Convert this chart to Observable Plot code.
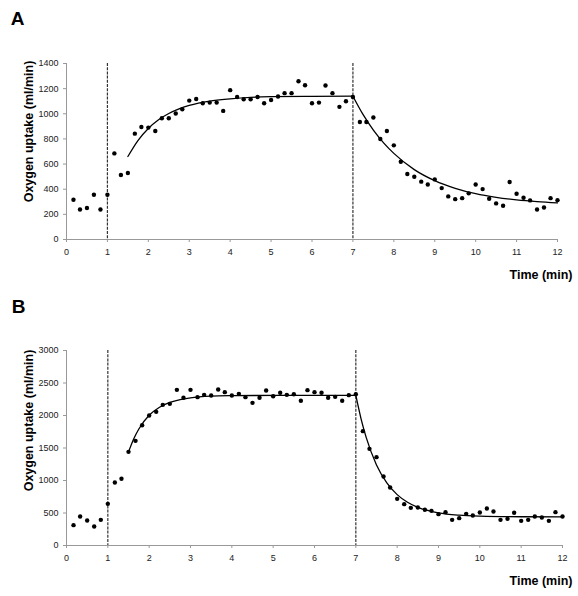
<!DOCTYPE html>
<html>
<head>
<meta charset="utf-8">
<script src="https://cdn.jsdelivr.net/npm/d3@7"></script>
<script src="https://cdn.jsdelivr.net/npm/@observablehq/plot@0.6"></script>
<style>
  html, body { margin: 0; padding: 0; background: #fff; }
  #chart { width: 578px; }
  #chart svg { display: block; }
</style>
</head>
<body>
<div id="chart"></div>
<script>
// Sample times (min)
const times = [0.17,0.33,0.5,0.67,0.83,1,1.17,1.33,1.5,1.67,1.83,2,2.17,2.33,2.5,2.67,2.83,3,
  3.17,3.33,3.5,3.67,3.83,4,4.17,4.33,4.5,4.67,4.83,5,5.17,5.33,5.5,5.67,5.83,6,
  6.17,6.33,6.5,6.67,6.83,7,7.17,7.33,7.5,7.67,7.83,8,8.17,8.33,8.5,8.67,8.83,9,
  9.17,9.33,9.5,9.67,9.83,10,10.17,10.33,10.5,10.67,10.83,11,11.17,11.33,11.5,11.67,11.83,12];

// Panel A: oxygen uptake (ml/min)
const vo2A = [316,239,250,356,239,356,685,513,529,842,895,890,863,964,964,1002,1036,1105,
  1118,1084,1089,1089,1023,1188,1134,1116,1116,1134,1084,1110,1137,1164,1164,1259,1227,1084,
  1089,1225,1164,1055,1100,1134,935,935,970,800,863,749,619,521,499,460,438,478,
  409,343,321,329,367,438,401,324,287,268,457,364,332,311,239,255,329,313];

// Panel B: oxygen uptake (ml/min)
const vo2B = [313,446,385,292,395,641,969,1026,1441,1610,1851,2000,2056,2164,2179,2395,2272,2395,
  2282,2318,2308,2400,2359,2308,2333,2282,2195,2272,2385,2297,2349,2318,2328,2226,2390,2359,
  2349,2272,2287,2226,2313,2328,1759,1487,1359,1062,892,718,636,579,585,549,533,482,
  513,395,421,487,462,508,569,523,395,410,503,379,395,446,431,379,513,446];

// Fitted curves
const fitOnA_t = [1.5,1.75,2,2.25,2.5,2.75,3,3.5,4,4.5,5,6,7];
const fitOnA_v = [660,789,883,952,1002,1039,1066,1101,1119,1131,1136,1139,1140];
const fitOffA_t = [7,7.25,7.5,7.75,8,8.5,9,9.5,10,10.5,11,11.5,12];
const fitOffA_v = [1140,993,870,769,685,556,468,407,364,335,315,301,291];

const fitOnB_t = [1.5,1.625,1.75,2,2.25,2.5,2.75,3,3.5,4,5,7];
const fitOnB_v = [1440,1639,1793,2003,2127,2202,2246,2272,2297,2305,2310,2310];
const fitOffB_t = [7,7.125,7.25,7.5,7.75,8,8.25,8.5,9,9.5,10,11,12];
const fitOffB_v = [2310,1953,1663,1240,964,783,665,587,503,467,452,442,440];

// Exercise on/off transitions
const transitions = [1, 7];

// Ticks and labels
const xTicks = [0,1,2,3,4,5,6,7,8,9,10,11,12];
const yTicksA = [0,200,400,600,800,1000,1200,1400];
const yTicksB = [0,500,1000,1500,2000,2500,3000];
const panelLabels = ["A", "B"];
const yLabel = "Oxygen uptake (ml/min)";
const xLabel = "Time (min)";

const font = "'Liberation Sans', Arial, sans-serif";

function toRows(ts, vs) { return ts.map((t, i) => ({t, v: vs[i]})); }

function panel(o) {
  return Plot.plot({
    width: 578,
    height: o.height,
    marginLeft: 66,
    marginRight: o.mr,
    marginTop: o.mt,
    marginBottom: o.mb,
    style: {fontFamily: font, background: "white", overflow: "visible"},
    x: {domain: [0, 12]},
    y: {domain: o.yDomain},
    marks: [
      Plot.axisX({ticks: xTicks, tickFormat: d => String(d), tickSize: 3, tickPadding: 6, fontSize: 9,
        stroke: "#999", fill: "#222", label: null}),
      Plot.axisY({ticks: o.yTicks, tickFormat: d => String(d), tickSize: 3, tickPadding: 5, fontSize: 9,
        stroke: "#999", fill: "#222", label: null}),
      Plot.ruleY([0], {stroke: "#999"}),
      Plot.ruleX([0], {stroke: "#999"}),
      Plot.ruleX(transitions, {stroke: "#333", strokeWidth: 1.2, strokeDasharray: "3,1.2"}),
      Plot.line(toRows(o.onT, o.onV), {x: "t", y: "v", curve: "monotone-x", stroke: "black", strokeWidth: 1.3}),
      Plot.line(toRows(o.offT, o.offV), {x: "t", y: "v", curve: "monotone-x", stroke: "black", strokeWidth: 1.3}),
      Plot.dot(toRows(times, o.values), {x: "t", y: "v", r: 2.2, fill: "black", stroke: "none"}),
      Plot.text([o.letter], {text: d => d, frameAnchor: "top-left", dx: o.letterDx, dy: o.letterDy,
        fontSize: 19, fontWeight: "bold", textAnchor: "middle", lineAnchor: "middle", fill: "black"}),
      Plot.text([yLabel], {text: d => d, frameAnchor: "left", rotate: -90, dx: -38, dy: o.ylabDy,
        fontSize: 12.5, fontWeight: "bold", textAnchor: "middle", lineAnchor: "middle", fill: "black"}),
      Plot.text([xLabel], {text: d => d, frameAnchor: "bottom-right", dx: o.xlabDx, dy: 35,
        fontSize: 12.5, fontWeight: "bold", textAnchor: "end", lineAnchor: "middle", fill: "black"})
    ]
  });
}

const chart = document.getElementById("chart");
chart.append(panel({
  height: 290, mt: 63, mb: 51, mr: 21,
  yDomain: [0, 1400], yTicks: yTicksA, values: vo2A,
  onT: fitOnA_t, onV: fitOnA_v, offT: fitOffA_t, offV: fitOffA_v,
  letter: panelLabels[0], letterDx: -49, letterDy: -45, ylabDy: -20, xlabDx: 15
}));
chart.append(panel({
  height: 306, mt: 60, mb: 51, mr: 16,
  yDomain: [0, 3000], yTicks: yTicksB, values: vo2B,
  onT: fitOnB_t, onV: fitOnB_v, offT: fitOffB_t, offV: fitOffB_v,
  letter: panelLabels[1], letterDx: -48, letterDy: -43.5, ylabDy: -27.5, xlabDx: 10
}));
</script>
</body>
</html>
